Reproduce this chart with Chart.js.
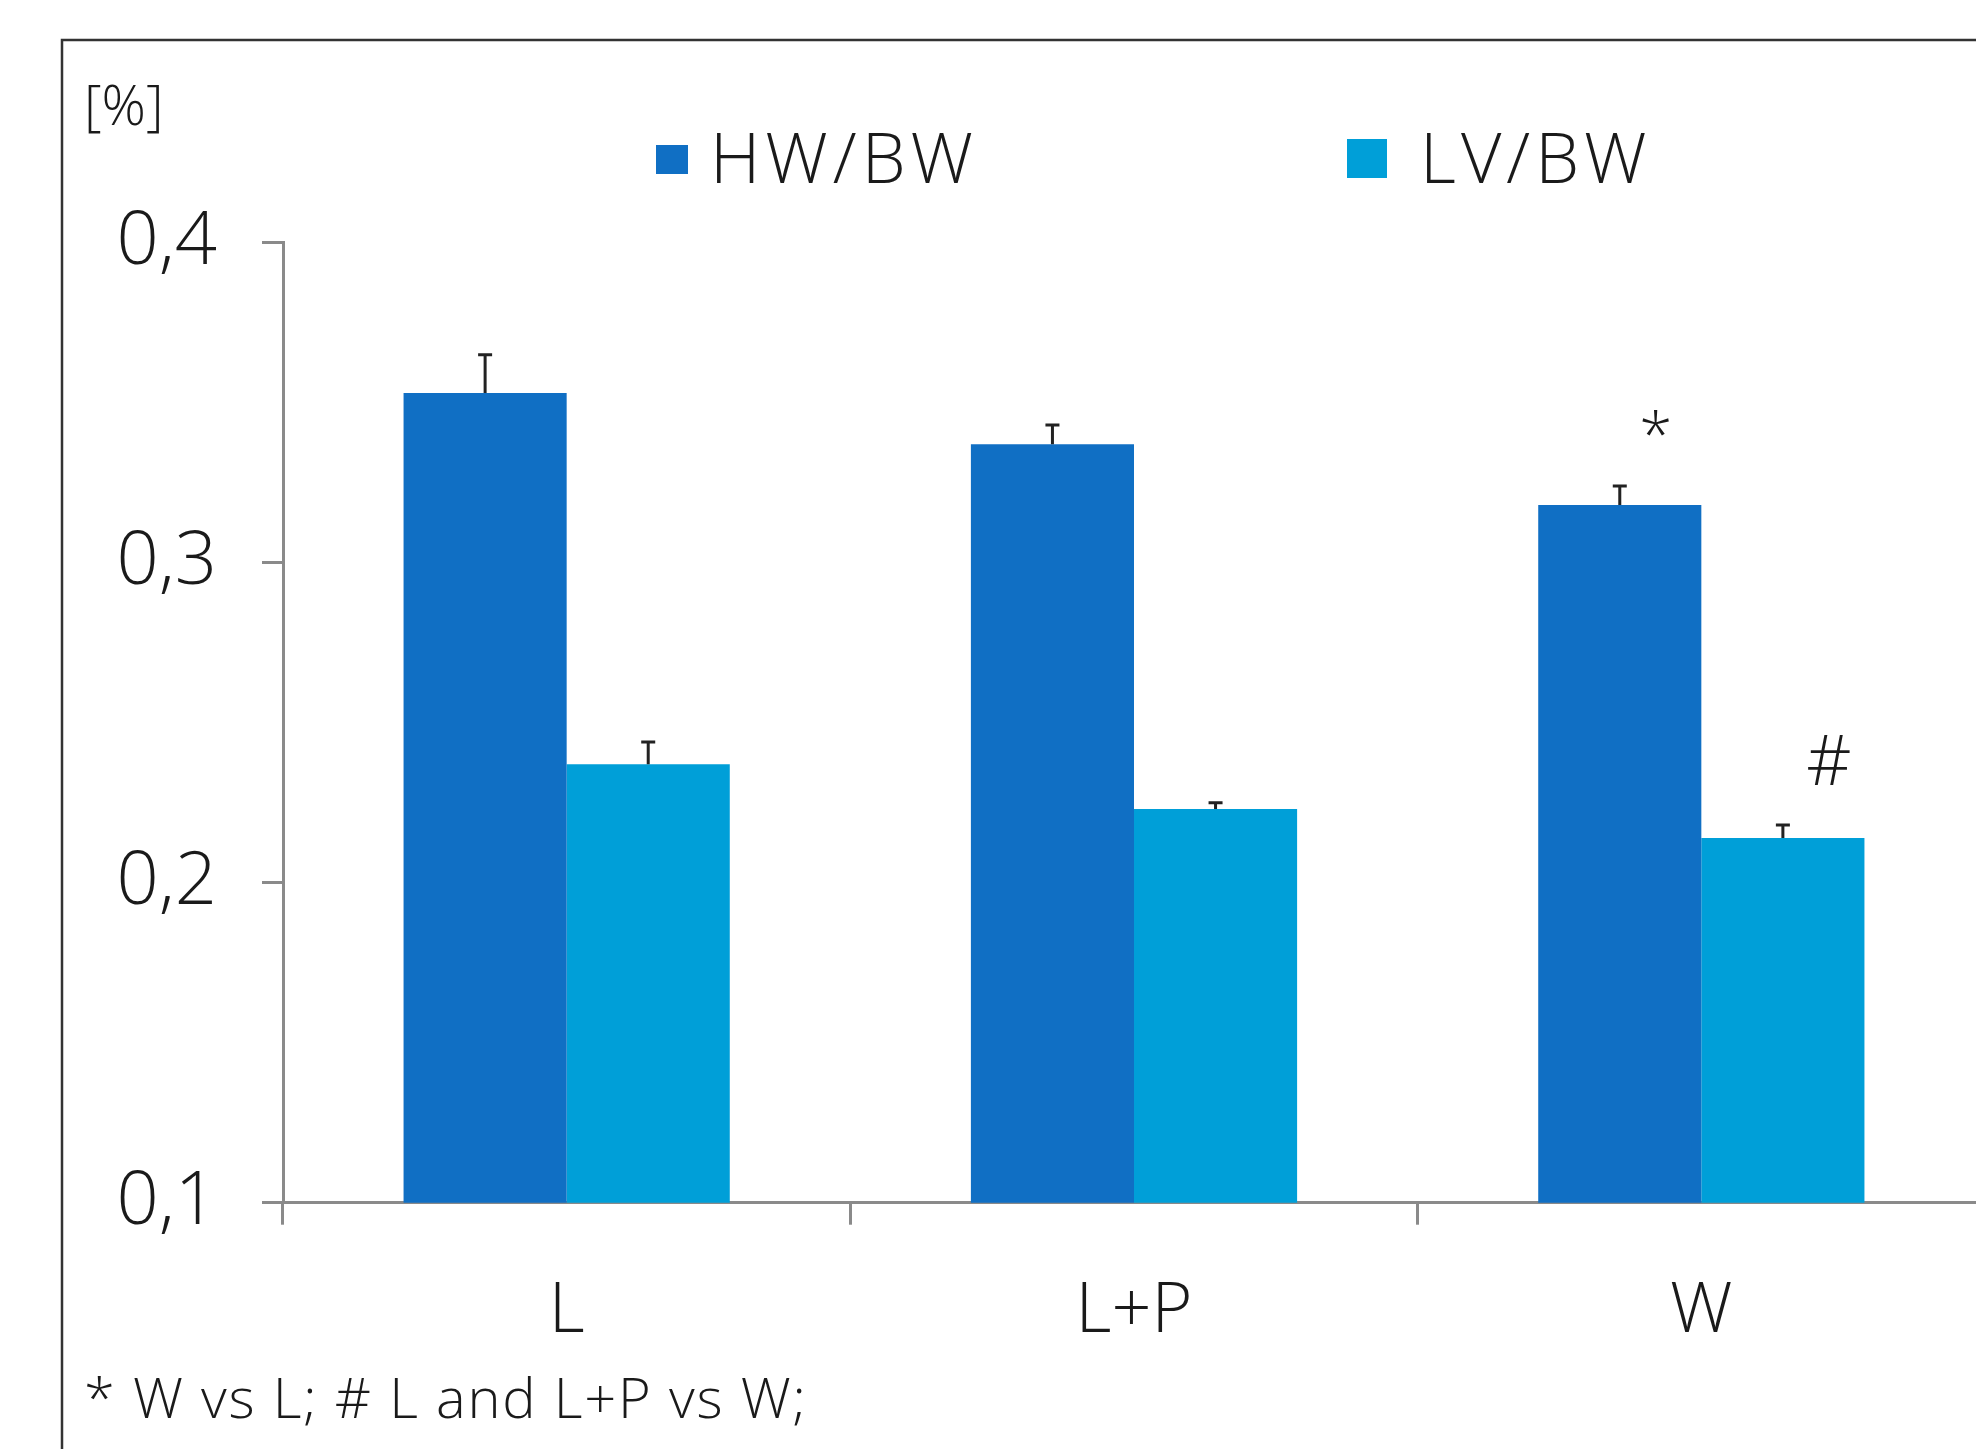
<!DOCTYPE html>
<html>
<head>
<meta charset="utf-8">
<script src="https://cdn.jsdelivr.net/npm/chart.js@4.4.0/dist/chart.umd.min.js"></script>
<style>
  html, body { margin: 0; padding: 0; background: #fff; overflow: hidden; }
  canvas { display: block; }
</style>
</head>
<body>
<canvas id="c" width="2100" height="1449" style="width:2100px;height:1449px"></canvas>
<script>
// ---- data ----
const groups = ['L', 'L+P', 'W'];
const seriesNames = ['HW/BW', 'LV/BW'];
const hwBw = [0.353, 0.337, 0.318];
const lvBw = [0.237, 0.223, 0.214];
const hwBwSem = [0.012, 0.006, 0.006];
const lvBwSem = [0.007, 0.002, 0.004];
const hwBwMarks = ['', '', '*'];
const lvBwMarks = ['', '', '#'];
const yTicks = [0.1, 0.2, 0.3, 0.4];
const unitLabel = '[%]';
const footnote = '* W vs L; # L and L+P vs W;';

// ---- styling ----
const FONT = "'Open Sans', Lato, 'Liberation Sans', sans-serif";
const TEXT = '#1a1a1a';
const AXIS = '#8a8a8a';
const colors = ['#106fc4', '#009fd8'];
const legendBoxes = [
  { x: 656, y: 145, w: 32, h: 29, tx: 710 },
  { x: 1347, y: 139, w: 40, h: 39, tx: 1420 }
];
const markStyle = [
  { font: '300 60px ' + FONT, dx: 36, dy: -30 },
  { font: '300 70px ' + FONT, dx: 46, dy: -40 }
];
const plotBox = { left: 283, right: 1985, top: 242.7, bottom: 1202.7 };

const errors = [hwBwSem, lvBwSem];
const marks = [hwBwMarks, lvBwMarks];

// white page, outer frame
const framePlugin = {
  id: 'frame',
  beforeDraw(chart) {
    const ctx = chart.ctx;
    ctx.save();
    ctx.fillStyle = '#fff';
    ctx.fillRect(0, 0, chart.width, chart.height);
    ctx.strokeStyle = '#333';
    ctx.lineWidth = 2.5;
    ctx.strokeRect(62, 40, 4000, 4000);
    ctx.restore();
  }
};

// upward error bars and significance marks
const errorPlugin = {
  id: 'errorBars',
  afterDatasetsDraw(chart) {
    const ctx = chart.ctx;
    const y = chart.scales.y;
    ctx.save();
    chart.data.datasets.forEach((ds, di) => {
      const meta = chart.getDatasetMeta(di);
      meta.data.forEach((bar, i) => {
        const top = y.getPixelForValue(ds.data[i] + errors[di][i]);
        ctx.strokeStyle = '#222';
        ctx.lineWidth = 3;
        ctx.beginPath();
        ctx.moveTo(bar.x, bar.y);
        ctx.lineTo(bar.x, top);
        ctx.moveTo(bar.x - 7, top);
        ctx.lineTo(bar.x + 7, top);
        ctx.stroke();
        const m = marks[di][i];
        if (m) {
          ctx.fillStyle = TEXT;
          ctx.font = markStyle[di].font;
          ctx.textAlign = 'center';
          ctx.textBaseline = 'alphabetic';
          ctx.fillText(m, bar.x + markStyle[di].dx, top + markStyle[di].dy);
        }
      });
    });
    ctx.restore();
  }
};

// legend, unit label and footnote
const textPlugin = {
  id: 'texts',
  afterDraw(chart) {
    const ctx = chart.ctx;
    ctx.save();
    ctx.textAlign = 'left';
    ctx.textBaseline = 'alphabetic';
    chart.data.datasets.forEach((ds, di) => {
      const b = legendBoxes[di];
      ctx.fillStyle = ds.backgroundColor;
      ctx.fillRect(b.x, b.y, b.w, b.h);
      ctx.fillStyle = TEXT;
      ctx.font = '300 70px ' + FONT;
      ctx.letterSpacing = '5px';
      ctx.fillText(ds.label, b.tx, 183);
    });
    ctx.letterSpacing = '0px';
    ctx.font = '300 55px ' + FONT;
    ctx.fillText(unitLabel, 84, 125);
    ctx.font = '300 56px ' + FONT;
    ctx.letterSpacing = '1.8px';
    ctx.fillText(footnote, 84, 1418);
    ctx.restore();
  }
};

const chart = new Chart(document.getElementById('c'), {
  type: 'bar',
  data: {
    labels: groups,
    datasets: [
      { label: seriesNames[0], data: hwBw, backgroundColor: colors[0], borderWidth: 0 },
      { label: seriesNames[1], data: lvBw, backgroundColor: colors[1], borderWidth: 0 }
    ]
  },
  options: {
    responsive: false,
    animation: false,
    devicePixelRatio: 1,
    layout: { padding: { left: 0, right: 100, top: 240, bottom: 120 } },
    datasets: { bar: { barPercentage: 1, categoryPercentage: 0.575 } },
    plugins: { legend: { display: false }, tooltip: { enabled: false } },
    scales: {
      x: {
        type: 'category',
        offset: true,
        grid: { offset: true, drawOnChartArea: false, drawTicks: true, tickLength: 22, color: AXIS, lineWidth: 3 },
        border: { display: true, color: AXIS, width: 3 },
        ticks: { color: TEXT, font: { family: FONT, size: 70, weight: '300' }, padding: 45, maxRotation: 0 }
      },
      y: {
        type: 'linear',
        min: 0.1,
        max: 0.4,
        afterBuildTicks(scale) { scale.ticks = yTicks.map(v => ({ value: v })); },
        grid: { drawOnChartArea: false, drawTicks: true, tickLength: 21, color: AXIS, lineWidth: 3 },
        border: { display: true, color: AXIS, width: 3 },
        ticks: {
          color: TEXT,
          font: { family: FONT, size: 74, weight: '300' },
          padding: 45,
          callback: v => v.toFixed(1).replace('.', ',')
        }
      }
    }
  },
  plugins: [framePlugin, errorPlugin, textPlugin]
});

// settle the plot area onto its intended box
for (let k = 0; k < 4; k++) {
  const a = chart.chartArea;
  const p = chart.options.layout.padding;
  p.left += plotBox.left - a.left;
  p.top += plotBox.top - a.top;
  p.right += a.right - plotBox.right;
  p.bottom += a.bottom - plotBox.bottom;
  chart.update('none');
}
</script>
</body>
</html>
